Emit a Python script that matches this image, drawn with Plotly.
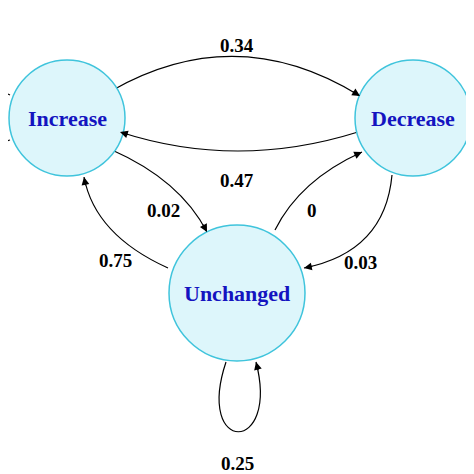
import numpy as np
import plotly.graph_objects as go

# states of the chain
states = ["Increase", "Decrease", "Unchanged"]
state_x = [67, 413, 237]
state_y = [118, 118, 293]
state_r = [58, 58, 68]

# transitions: (from, to, probability)
edge_from = ["Increase", "Decrease", "Increase", "Unchanged", "Unchanged", "Decrease", "Unchanged"]
edge_to = ["Decrease", "Increase", "Unchanged", "Increase", "Decrease", "Unchanged", "Unchanged"]
edge_prob = ["0.34", "0.47", "0.02", "0.75", "0", "0.03", "0.25"]

# path geometry for each edge (start, control(s), end) and label spot
edge_paths = [
    [(113, 90), (237, 20), (360, 96)],
    [(358, 132), (237, 170), (120, 132)],
    [(112, 150), (180, 180), (207, 232)],
    [(168, 268), (95, 235), (84, 177)],
    [(275, 230), (300, 180), (362, 152)],
    [(392, 175), (385, 252), (304, 268)],
    [(226, 362), (195, 455), (280, 455), (256, 362)],
]
label_pos = [(237, 45), (237, 180), (163, 210), (115, 260), (312, 210), (360, 262), (237, 463)]

fig = go.Figure()
shapes = []
annotations = []

for pts, prob, (lx, ly) in zip(edge_paths, edge_prob, label_pos):
    if len(pts) == 3:
        d = "M {} {} Q {} {} {} {}".format(*pts[0], *pts[1], *pts[2])
    else:
        d = "M {} {} C {} {} {} {} {} {}".format(*pts[0], *pts[1], *pts[2], *pts[3])
    shapes.append(dict(type="path", path=d, line=dict(color="black", width=1.2), layer="below"))
    ex, ey = pts[-1]
    cx, cy = pts[-2]
    v = np.array([ex - cx, ey - cy], float)
    v /= np.linalg.norm(v)
    annotations.append(dict(x=ex, y=ey, ax=ex - 10 * v[0], ay=ey - 10 * v[1],
                            xref="x", yref="y", axref="x", ayref="y", text="",
                            showarrow=True, arrowhead=2, arrowsize=1.3, arrowwidth=1.2,
                            arrowcolor="black"))
    annotations.append(dict(x=lx, y=ly, text="<b>%s</b>" % prob, showarrow=False,
                            font=dict(family="Liberation Serif", size=19, color="black")))

# partly visible self loops at the edges of the picture
shapes.append(dict(type="path", path="M 10 95 C -20 80 -20 150 10 140", line=dict(color="black", width=1.2)))
shapes.append(dict(type="path", path="M 464 95 C 494 80 494 150 464 140", line=dict(color="black", width=1.2)))

for name, x, y, r in zip(states, state_x, state_y, state_r):
    shapes.append(dict(type="circle", x0=x - r, x1=x + r, y0=y - r, y1=y + r,
                       fillcolor="#ddf6fb", line=dict(color="#3fc4dc", width=1.5)))
    annotations.append(dict(x=x, y=y, text="<b>%s</b>" % name, showarrow=False,
                            font=dict(family="Liberation Serif", size=22, color="#1414c0")))

# page body has an 8px margin, so shift the view to compensate
fig.update_layout(
    width=474, height=474, margin=dict(l=0, r=0, t=0, b=0),
    plot_bgcolor="white", paper_bgcolor="white",
    xaxis=dict(range=[8, 482], visible=False),
    yaxis=dict(range=[482, 8], visible=False),
    shapes=shapes, annotations=annotations, showlegend=False,
)
fig.write_html("out.html")
